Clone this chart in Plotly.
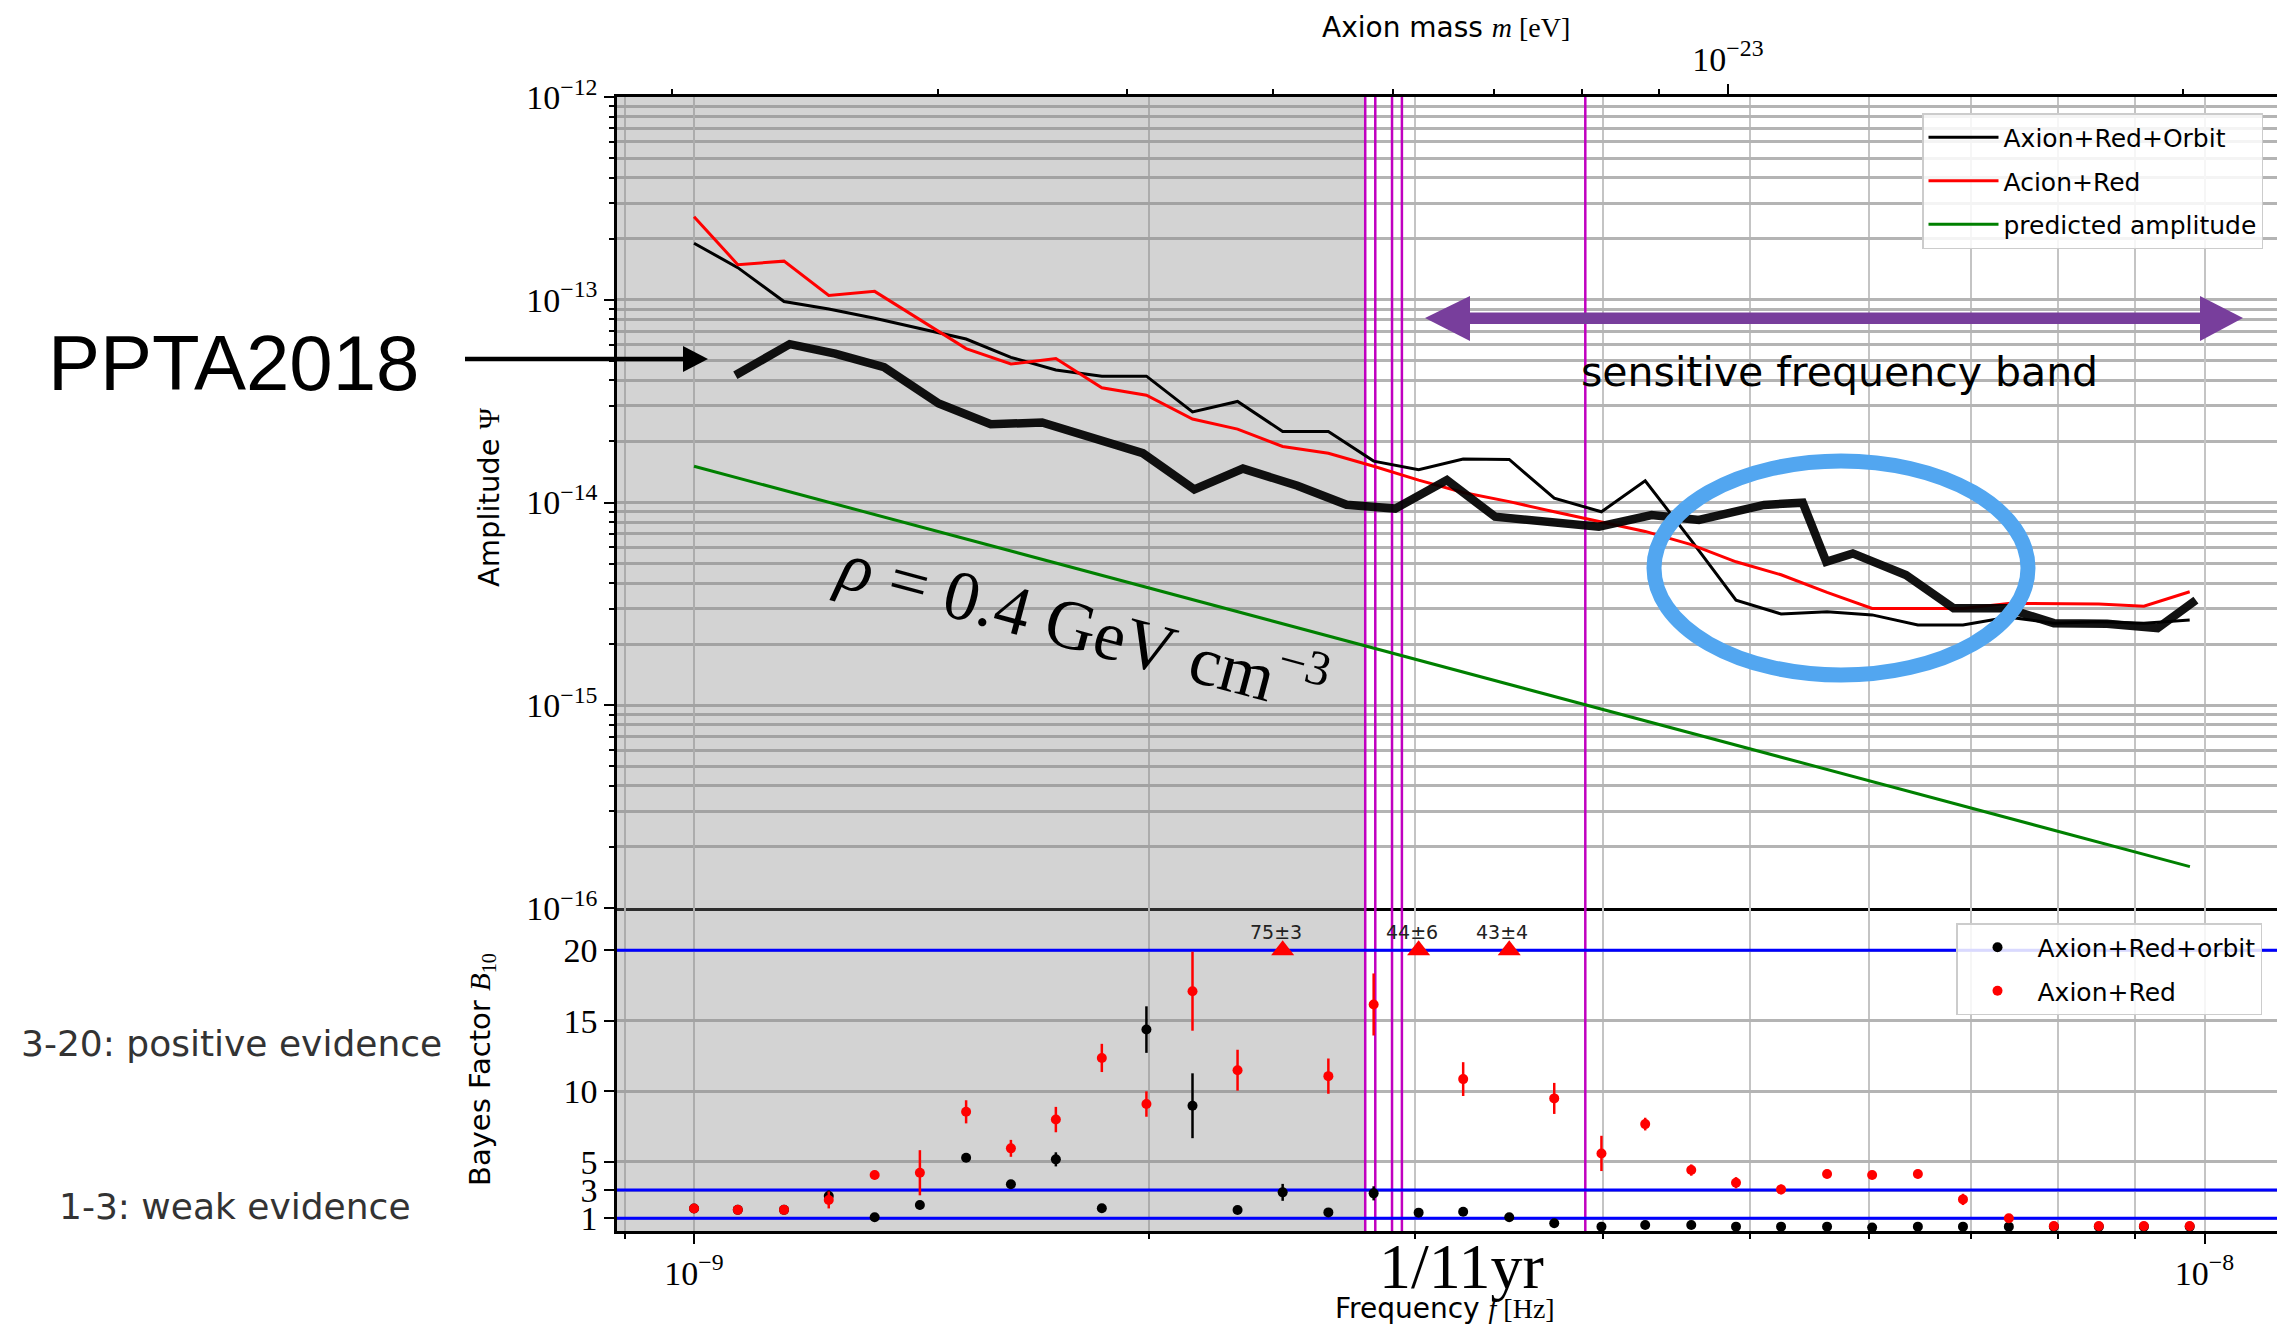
import math
import plotly.graph_objects as go

# ---------------- data ----------------
freq = [1.000e-9, 1.069e-9, 1.147e-9, 1.228e-9, 1.317e-9, 1.411e-9, 1.514e-9,
        1.621e-9, 1.736e-9, 1.862e-9, 1.993e-9, 2.138e-9, 2.290e-9, 2.453e-9,
        2.630e-9, 2.818e-9, 3.018e-9, 3.230e-9, 3.465e-9, 3.711e-9, 3.988e-9,
        4.263e-9, 4.573e-9, 4.896e-9, 5.244e-9, 5.625e-9, 6.025e-9, 6.460e-9,
        6.920e-9, 7.421e-9, 7.948e-9, 8.512e-9, 9.117e-9, 9.777e-9]

amp_red_orbit = [1.90e-13, 1.44e-13, 9.8e-14, 9.0e-14, 8.1e-14, 7.2e-14, 6.4e-14,
                 5.2e-14, 4.5e-14, 4.2e-14, 4.2e-14, 2.8e-14, 3.15e-14, 2.24e-14,
                 2.24e-14, 1.60e-14, 1.45e-14, 1.64e-14, 1.63e-14, 1.05e-14, 9.0e-15,
                 1.28e-14, 6.5e-15, 3.3e-15, 2.82e-15, 2.89e-15, 2.79e-15, 2.49e-15,
                 2.49e-15, 2.72e-15, 2.54e-15, 2.58e-15, 2.54e-15, 2.63e-15]

amp_red = [2.57e-13, 1.49e-13, 1.55e-13, 1.05e-13, 1.10e-13, 8.0e-14, 5.74e-14,
           4.82e-14, 5.13e-14, 3.68e-14, 3.38e-14, 2.58e-14, 2.30e-14, 1.89e-14,
           1.75e-14, 1.51e-14, 1.29e-14, 1.12e-14, 1.01e-14, 9.0e-15, 8.0e-15,
           7.2e-15, 6.2e-15, 5.1e-15, 4.4e-15, 3.6e-15, 3.0e-15, 3.0e-15,
           3.0e-15, 3.18e-15, 3.18e-15, 3.16e-15, 3.08e-15, 3.63e-15]

pred_freq = [1.0e-9, 9.78e-9]
pred_amp = [1.51e-14, 1.6e-16]

ppta_freq = [1.065e-9, 1.157e-9, 1.240e-9, 1.336e-9, 1.452e-9, 1.572e-9, 1.700e-9,
             1.839e-9, 1.982e-9, 2.144e-9, 2.309e-9, 2.509e-9, 2.704e-9, 2.912e-9,
             3.151e-9, 3.391e-9, 3.972e-9, 4.305e-9, 4.627e-9, 5.110e-9, 5.420e-9,
             5.618e-9, 5.850e-9, 6.344e-9, 6.822e-9, 7.395e-9, 7.948e-9, 8.620e-9,
             9.310e-9, 9.870e-9]
ppta_amp = [4.24e-14, 6.04e-14, 5.42e-14, 4.65e-14, 3.08e-14, 2.43e-14, 2.48e-14,
            2.09e-14, 1.75e-14, 1.16e-14, 1.47e-14, 1.21e-14, 9.75e-15, 9.33e-15,
            1.29e-14, 8.51e-15, 7.60e-15, 8.67e-15, 8.20e-15, 9.73e-15, 9.98e-15,
            5.10e-15, 5.61e-15, 4.39e-15, 3.01e-15, 3.01e-15, 2.54e-15, 2.52e-15,
            2.40e-15, 3.30e-15]

bf_orbit = [1.7, 1.6, 1.6, 2.58, 1.07, 1.94, 5.29, 3.41, 5.18, 1.71, 14.38, 8.98,
            1.59, 2.84, 1.42, 2.77, 1.40, 1.47, 1.07, 0.65, 0.41, 0.53, 0.53, 0.41,
            0.41, 0.41, 0.34, 0.41, 0.41, 0.41, 0.41, 0.41, 0.41, 0.41]
bf_orbit_err = [0.2, 0.2, 0.2, 0.4, 0.2, 0.3, 0.3, 0.3, 0.5, 0.2, 1.65, 2.3,
                0.2, 0.6, 0.2, 0.5, 0.2, 0.2, 0.2, 0.2, 0.2, 0.2, 0.2, 0.2,
                0.2, 0.2, 0.2, 0.2, 0.2, 0.2, 0.2, 0.2, 0.2, 0.2]

bf_red = [1.7, 1.6, 1.6, 2.3, 4.07, 4.23, 8.55, 5.96, 8.0, 12.37, 9.1, 17.1,
          11.5, 75, 11.08, 16.16, 44, 10.87, 43, 9.5, 5.6, 7.68, 4.42, 3.52,
          3.05, 4.14, 4.07, 4.14, 2.34, 1.0, 0.45, 0.45, 0.45, 0.45]
bf_red_err = [0.3, 0.2, 0.2, 0.6, 0.3, 1.6, 0.82, 0.6, 0.9, 1.0, 0.9, 2.8,
              1.45, 3, 1.25, 2.2, 6, 1.2, 4, 1.1, 1.25, 0.45, 0.4, 0.4,
              0.35, 0.3, 0.3, 0.3, 0.4, 0.3, 0.2, 0.2, 0.2, 0.2]

bf_cap = 20
evidence_levels = [1, 3, 20]
harmonic_lines = [2.782e-9, 2.825e-9, 2.898e-9, 2.942e-9, 3.891e-9]
shade_end = 2.782e-9

amp_ticks = [1e-16, 1e-15, 1e-14, 1e-13, 1e-12]
amp_ticktext = ["10<sup>−16</sup>", "10<sup>−15</sup>", "10<sup>−14</sup>",
                "10<sup>−13</sup>", "10<sup>−12</sup>"]
freq_ticks = [1e-9, 1e-8]
freq_ticktext = ["10<sup>−9</sup>", "10<sup>−8</sup>"]
bf_ticks = [1, 3, 5, 10, 15, 20]
mass_ticks = [1e-23]
mass_ticktext = ["10<sup>−23</sup>"]
h_over_2 = 2.0678e-15  # eV s : m = f * h / 2

# ---------------- layout helpers ----------------
W, H = 2277, 1326
PL, PR, PT, PB = 617, 2277, 97, 1231
def px(x): return (x - PL) / (PR - PL)
def py(y): return (PB - y) / (PB - PT)
split = py(908)

xr = [-9.051, -7.952]
yr_top = [-16, -12]
yr_bot = [0.1, 23]
SERIF = "Liberation Serif"
SANS = "DejaVu Sans"
GRID_H = "#b4b4b4"
GRID_V = "#c4c4c4"
SHADE = "rgba(128,128,128,0.345)"
MAGENTA = "#c000c0"

def minor_vals(lo, hi):
    out = []
    for e in range(lo, hi + 1):
        for d in range(2, 10):
            out.append(d * 10.0 ** e)
    return out

fig = go.Figure()

# ---- grey shaded region and vertical magenta lines (both panels) ----
fmin = 10 ** xr[0]
for xa, ya, ylo, yhi in [("x", "y", 10 ** yr_top[0], 10 ** yr_top[1]),
                         ("x2", "y2", yr_bot[0], yr_bot[1])]:
    fig.add_trace(go.Scatter(x=[fmin, shade_end, shade_end, fmin], y=[ylo, ylo, yhi, yhi],
                             fill="toself", fillcolor=SHADE, mode="lines", line=dict(width=0),
                             showlegend=False, hoverinfo="skip", xaxis=xa, yaxis=ya))
    vx, vy = [], []
    for v in harmonic_lines:
        vx += [v, v, None]
        vy += [ylo, yhi, None]
    fig.add_trace(go.Scatter(x=vx, y=vy, mode="lines", line=dict(color=MAGENTA, width=2.5),
                             showlegend=False, hoverinfo="skip", xaxis=xa, yaxis=ya))

# ---- top panel ----
fig.add_trace(go.Scatter(x=freq, y=amp_red_orbit, mode="lines", name="Axion+Red+Orbit",
                         line=dict(color="black", width=3), legend="legend",
                         legendgroup="a", xaxis="x", yaxis="y"))
fig.add_trace(go.Scatter(x=freq, y=amp_red, mode="lines", name="Acion+Red",
                         line=dict(color="red", width=3), legend="legend",
                         legendgroup="b", xaxis="x", yaxis="y"))
fig.add_trace(go.Scatter(x=pred_freq, y=pred_amp, mode="lines", name="predicted amplitude",
                         line=dict(color="green", width=3), legend="legend",
                         legendgroup="c", xaxis="x", yaxis="y"))
fig.add_trace(go.Scatter(x=ppta_freq, y=ppta_amp, mode="lines", name="PPTA2018",
                         line=dict(color="rgba(0,0,0,0.93)", width=8.5), showlegend=False,
                         xaxis="x", yaxis="y"))
# invisible trace to hold the top (mass) axis
fig.add_trace(go.Scatter(x=[mass_ticks[0]], y=[amp_ticks[2]], mode="markers",
                         marker=dict(opacity=0), showlegend=False, hoverinfo="skip",
                         xaxis="x3", yaxis="y"))

# ---- bottom panel ----
for lvl in evidence_levels:
    fig.add_trace(go.Scatter(x=[10 ** xr[0], 10 ** xr[1]], y=[lvl, lvl], mode="lines",
                             line=dict(color="blue", width=3), showlegend=False,
                             hoverinfo="skip", xaxis="x2", yaxis="y2"))

fig.add_trace(go.Scatter(x=freq, y=bf_orbit, mode="markers", name="Axion+Red+orbit",
                         marker=dict(color="black", size=10),
                         error_y=dict(type="data", array=bf_orbit_err, color="black",
                                      thickness=2.5, width=0),
                         legend="legend2", legendgroup="d", xaxis="x2", yaxis="y2"))
red_y = [v if v <= bf_cap else None for v in bf_red]
red_e = [e if v <= bf_cap else 0 for v, e in zip(bf_red, bf_red_err)]
fig.add_trace(go.Scatter(x=freq, y=red_y, mode="markers", name="Axion+Red",
                         marker=dict(color="red", size=10),
                         error_y=dict(type="data", array=red_e, color="red",
                                      thickness=2.5, width=0),
                         legend="legend2", legendgroup="e", xaxis="x2", yaxis="y2"))
cap_f = [f for f, v in zip(freq, bf_red) if v > bf_cap]
cap_v = [v for v in bf_red if v > bf_cap]
cap_e = [e for v, e in zip(bf_red, bf_red_err) if v > bf_cap]
fig.add_trace(go.Scatter(x=cap_f, y=[bf_cap] * len(cap_f), mode="markers",
                         marker=dict(color="red", size=20, symbol="triangle-up"),
                         showlegend=False, xaxis="x2", yaxis="y2"))

annotations = []
for f, v, e in zip(cap_f, cap_v, cap_e):
    annotations.append(dict(x=math.log10(f), y=bf_cap, xref="x2", yref="y2",
                            text=f"{v:g}±{e:g}", showarrow=False, xshift=-7, yshift=18,
                            font=dict(family=SANS, size=19, color="#222")))

# ---- shapes (overlay drawings, paper coordinates) ----
shapes = []
# PPTA arrow
shapes.append(dict(type="line", xref="paper", yref="paper", x0=px(465), x1=px(688),
                   y0=py(359), y1=py(359), line=dict(color="black", width=4.5)))
shapes.append(dict(type="path", xref="paper", yref="paper",
                   path=f"M {px(708)},{py(359)} L {px(683)},{py(346)} L {px(683)},{py(372)} Z",
                   fillcolor="black", line=dict(width=0)))
# sensitive band double arrow
PURPLE = "#783e9c"
shapes.append(dict(type="path", xref="paper", yref="paper",
                   path=(f"M {px(1468)},{py(312.5)} L {px(2202)},{py(312.5)} "
                         f"L {px(2202)},{py(324)} L {px(1468)},{py(324)} Z"),
                   fillcolor=PURPLE, line=dict(width=0)))
shapes.append(dict(type="path", xref="paper", yref="paper",
                   path=f"M {px(1425)},{py(318)} L {px(1470)},{py(296)} L {px(1470)},{py(341)} Z",
                   fillcolor=PURPLE, line=dict(width=0)))
shapes.append(dict(type="path", xref="paper", yref="paper",
                   path=f"M {px(2243)},{py(318)} L {px(2200)},{py(296)} L {px(2200)},{py(341)} Z",
                   fillcolor=PURPLE, line=dict(width=0)))
# blue ellipse
cx, cy, rx, ry = 1841, 568, 187, 107
shapes.append(dict(type="circle", xref="paper", yref="paper", x0=px(cx - rx), x1=px(cx + rx),
                   y0=py(cy + ry), y1=py(cy - ry), line=dict(color="#52a6f0", width=15)))

# ---- text annotations ----
def txt(x, y, text, size, family=SANS, color="black", angle=0):
    annotations.append(dict(x=px(x), y=py(y), xref="paper", yref="paper", text=text,
                            showarrow=False, xanchor="center", yanchor="middle",
                            textangle=angle, font=dict(family=family, size=size, color=color)))

txt(1446, 28, f'Axion mass <span style="font-family:{SERIF}"><i>m</i> [eV]</span>', 28)
txt(1445, 1308, f'Frequency <span style="font-family:{SERIF}"><i>f</i> [Hz]</span>', 28)
txt(1461, 1267, "1/11yr", 64, family=SERIF)
txt(489, 497, f'Amplitude <span style="font-family:{SERIF}">Ψ</span>', 29, angle=-90)
txt(481, 1070, f'Bayes Factor <span style="font-family:{SERIF}"><i>B</i><sub>10</sub></span>', 29, angle=-90)
txt(233, 363, "PPTA2018", 78, family="Liberation Sans")
txt(1839, 372, "sensitive frequency band", 41)
txt(1083, 622, "<i>ρ</i>\u00a0=\u00a00.4\u00a0GeV\u00a0cm<sup>−3</sup>", 70, family=SERIF, angle=15)
txt(231, 1043, "3-20: positive evidence", 36, color="#333333")
txt(235, 1206, "1-3: weak evidence", 36, color="#333333")

# ---- axes ----
tickfont = dict(family=SERIF, size=34, color="black")
fig.update_layout(
    width=W, height=H,
    margin=dict(l=PL, r=W - PR, t=PT, b=H - PB),
    paper_bgcolor="white", plot_bgcolor="white",
    font=dict(family=SANS, size=22, color="black"),
    xaxis=dict(type="log", range=xr, domain=[0, 1], anchor="y",
               tickmode="array", tickvals=freq_ticks, showticklabels=False, ticks="",
               showgrid=True, gridcolor=GRID_V, gridwidth=2,
               minor=dict(tickmode="array", tickvals=minor_vals(-10, -8), ticks="",
                          showgrid=True, gridcolor=GRID_V, gridwidth=2),
               showline=True, linecolor="black", linewidth=2.5, zeroline=False),
    yaxis=dict(type="log", range=yr_top, domain=[split, 1], anchor="x",
               tickmode="array", tickvals=amp_ticks, ticktext=amp_ticktext,
               ticks="outside", ticklen=10, tickwidth=2, tickcolor="black", tickfont=tickfont,
               showgrid=True, gridcolor=GRID_H, gridwidth=2.5,
               minor=dict(tickmode="array", tickvals=minor_vals(-16, -13), ticks="outside",
                          ticklen=5, tickwidth=2, tickcolor="black",
                          showgrid=True, gridcolor=GRID_H, gridwidth=2.5),
               showline=True, linecolor="black", linewidth=2.5, zeroline=False),
    xaxis2=dict(type="log", range=xr, domain=[0, 1], anchor="y2", matches="x",
                tickmode="array", tickvals=freq_ticks, ticktext=freq_ticktext,
                ticks="outside", ticklen=10, tickwidth=2, tickcolor="black", tickfont=tickfont,
                showgrid=True, gridcolor=GRID_V, gridwidth=2,
                minor=dict(tickmode="array", tickvals=minor_vals(-10, -8), ticks="outside",
                           ticklen=5, tickwidth=2, tickcolor="black",
                           showgrid=True, gridcolor=GRID_V, gridwidth=2),
                showline=True, linecolor="black", linewidth=2.5, zeroline=False),
    yaxis2=dict(range=yr_bot, domain=[0, split], anchor="x2",
                tickmode="array", tickvals=bf_ticks, ticktext=[str(t) for t in bf_ticks],
                ticks="outside", ticklen=10, tickwidth=2, tickcolor="black", tickfont=tickfont,
                showgrid=True, gridcolor=GRID_H, gridwidth=2.5,
                showline=True, linecolor="black", linewidth=2.5, zeroline=False),
    xaxis3=dict(type="log", overlaying="x", side="top", anchor="y",
                range=[xr[0] + math.log10(h_over_2), xr[1] + math.log10(h_over_2)],
                tickmode="array", tickvals=mass_ticks, ticktext=mass_ticktext,
                ticks="outside", ticklen=10, tickwidth=2, tickcolor="black", tickfont=tickfont,
                minor=dict(tickmode="array", tickvals=minor_vals(-24, -23), ticks="outside",
                           ticklen=5, tickwidth=2, tickcolor="black", showgrid=False),
                showgrid=False, showline=True, linecolor="black", linewidth=2.5, zeroline=False),
    legend=dict(x=px(2263), y=py(113), xanchor="right", yanchor="top",
                bgcolor="rgba(255,255,255,0.85)", bordercolor="#cccccc", borderwidth=1.5,
                font=dict(family=SANS, size=25), tracegroupgap=8, itemwidth=70,
                traceorder="grouped"),
    legend2=dict(x=px(2262), y=py(923), xanchor="right", yanchor="top",
                 bgcolor="rgba(255,255,255,0.85)", bordercolor="#cccccc", borderwidth=1.5,
                 font=dict(family=SANS, size=25), tracegroupgap=8, itemwidth=70,
                 traceorder="grouped"),
    shapes=shapes,
    annotations=annotations,
    showlegend=True,
)

fig.write_html("out.html", config={"displayModeBar": False},
               post_script="document.body.style.margin='0';")
